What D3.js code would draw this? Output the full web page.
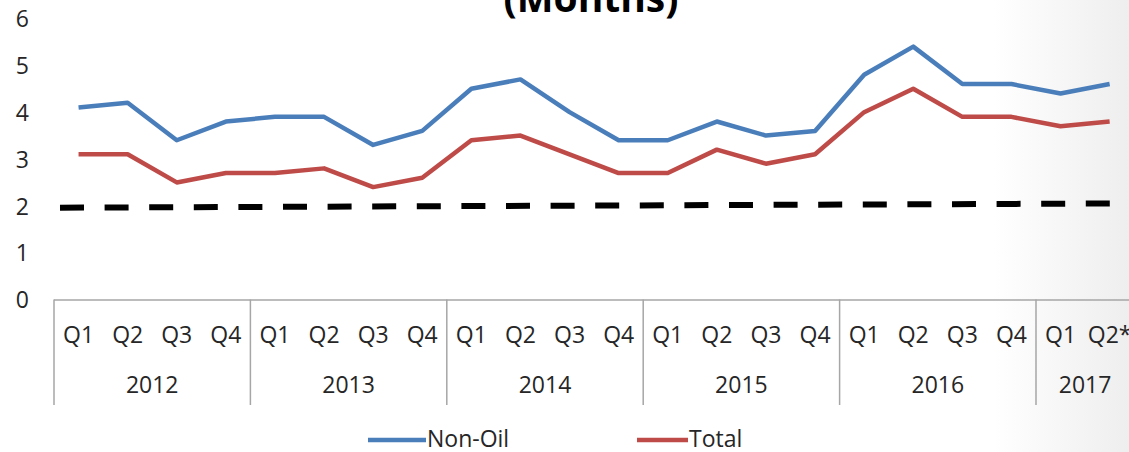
<!DOCTYPE html>
<html>
<head>
<meta charset="utf-8">
<script src="https://cdn.jsdelivr.net/npm/d3@7"></script>
<style>
  html, body { margin: 0; padding: 0; background: #fff; overflow: hidden; }
  svg { display: block; }
  text { font-family: "Open Sans", sans-serif; fill: #262626; }
</style>
</head>
<body>
<svg id="chart" width="1129" height="452"></svg>
<script>
// ---- data ----
const years = ["2012", "2013", "2014", "2015", "2016", "2017"];
const quartersPerYear = [4, 4, 4, 4, 4, 2];
const quarterNames = ["Q1", "Q2", "Q3", "Q4"];
const lastQuarterLabel = "Q2*";
const nonOil = [4.1, 4.2, 3.4, 3.8, 3.9, 3.9, 3.3, 3.6, 4.5, 4.7, 4.0, 3.4, 3.4, 3.8, 3.5, 3.6, 4.8, 5.4, 4.6, 4.6, 4.4, 4.6];
const total  = [3.1, 3.1, 2.5, 2.7, 2.7, 2.8, 2.4, 2.6, 3.4, 3.5, 3.1, 2.7, 2.7, 3.2, 2.9, 3.1, 4.0, 4.5, 3.9, 3.9, 3.7, 3.8];
const benchmark = [1.96, 2.05];   // dashed reference (~2 months), left and right ends
const yTicks = [0, 1, 2, 3, 4, 5, 6];
const seriesNames = ["Non-Oil", "Total"];
const titleText = "(Months)";

// ---- build quarter list ----
const quarters = [];
years.forEach((y, yi) => {
  for (let q = 0; q < quartersPerYear[yi]; q++) {
    const isLast = yi === years.length - 1 && q === quartersPerYear[yi] - 1;
    quarters.push({ key: y + "-" + q, year: y, label: isLast ? lastQuarterLabel : quarterNames[q] });
  }
});

const svg = d3.select("#chart");
const W = 1129, H = 452;

// background: faint grey shading along the right edge
const defs = svg.append("defs");
const grad = defs.append("linearGradient").attr("id", "bg").attr("x1", "0").attr("x2", "1").attr("y1", "0").attr("y2", "0");
grad.append("stop").attr("offset", "0.88").attr("stop-color", "#ffffff");
grad.append("stop").attr("offset", "1").attr("stop-color", "#eeeeee");
svg.append("rect").attr("width", W).attr("height", H).attr("fill", "url(#bg)");

const step = 49.1;
const x = d3.scaleBand().domain(quarters.map(d => d.key)).range([54, 54 + step * quarters.length]).paddingInner(0).paddingOuter(0);
const y = d3.scaleLinear().domain([0, 6]).range([299.5, 18.5]);
const cx = k => x(k) + x.bandwidth() / 2;

// title (cropped at top)
svg.append("text").attr("x", 591).attr("y", 12).attr("text-anchor", "middle")
  .style("font-weight", 700).style("font-size", "39px").style("fill", "#000").text(titleText);

// y-axis labels
const yAxis = d3.axisLeft(y).tickValues(yTicks).tickSize(0).tickPadding(0).tickFormat(d3.format("d"));
const yg = svg.append("g").attr("transform", "translate(29,0)").call(yAxis);
yg.select(".domain").remove();
yg.selectAll("text").style("font-size", "23px").style("font-family", "'Open Sans', sans-serif").attr("fill", "#262626").attr("dy", "0.36em");

// category axis box
const axisColor = "#a6a6a6";
svg.append("line").attr("x1", x.range()[0]).attr("x2", W).attr("y1", y(0) + 0.5).attr("y2", y(0) + 0.5)
  .attr("stroke", axisColor).attr("stroke-width", 1.5);

// year boundaries
let idx = 0;
const yearGroups = years.map((yr, yi) => {
  const start = idx; idx += quartersPerYear[yi];
  return { year: yr, start, end: idx };
});
const boundaries = [0].concat(yearGroups.map(g => g.end));
svg.selectAll(".yb").data(boundaries).join("line")
  .attr("x1", d => 54 + d * x.step()).attr("x2", d => 54 + d * x.step())
  .attr("y1", y(0)).attr("y2", 405).attr("stroke", axisColor).attr("stroke-width", 1.5);

// quarter labels
svg.selectAll(".ql").data(quarters).join("text")
  .attr("x", d => cx(d.key)).attr("y", 343).attr("text-anchor", "middle")
  .style("font-size", "23px").text(d => d.label);

// year labels
svg.selectAll(".yl").data(yearGroups).join("text")
  .attr("x", d => 54 + (d.start + d.end) / 2 * x.step()).attr("y", 393).attr("text-anchor", "middle")
  .style("font-size", "23px").text(d => d.year);

// benchmark dashed line
const bx0 = x.range()[0] + 6, bx1 = cx(quarters[quarters.length - 1].key) + 7;
svg.append("line").attr("x1", bx0).attr("x2", bx1).attr("y1", y(benchmark[0])).attr("y2", y(benchmark[1]))
  .attr("stroke", "#000").attr("stroke-width", 6).attr("stroke-dasharray", "24,20.6");

// series lines
const colors = ["#4a7ebb", "#be4b48"];
const line = d3.line().x((d, i) => cx(quarters[i].key)).y(d => y(d));
[nonOil, total].forEach((s, i) => {
  svg.append("path").datum(s).attr("d", line).attr("fill", "none")
    .attr("stroke", colors[i]).attr("stroke-width", 4.5).attr("stroke-linejoin", "round");
});

// legend
const legend = [
  { name: seriesNames[0], color: colors[0], x0: 368, x1: 426 },
  { name: seriesNames[1], color: colors[1], x0: 637, x1: 688 }
];
legend.forEach(l => {
  svg.append("line").attr("x1", l.x0).attr("x2", l.x1).attr("y1", 440).attr("y2", 440)
    .attr("stroke", l.color).attr("stroke-width", 4.5);
  svg.append("text").attr("x", l.x1 + 1).attr("y", 447).style("font-size", "23px").text(l.name);
});
</script>
</body>
</html>
